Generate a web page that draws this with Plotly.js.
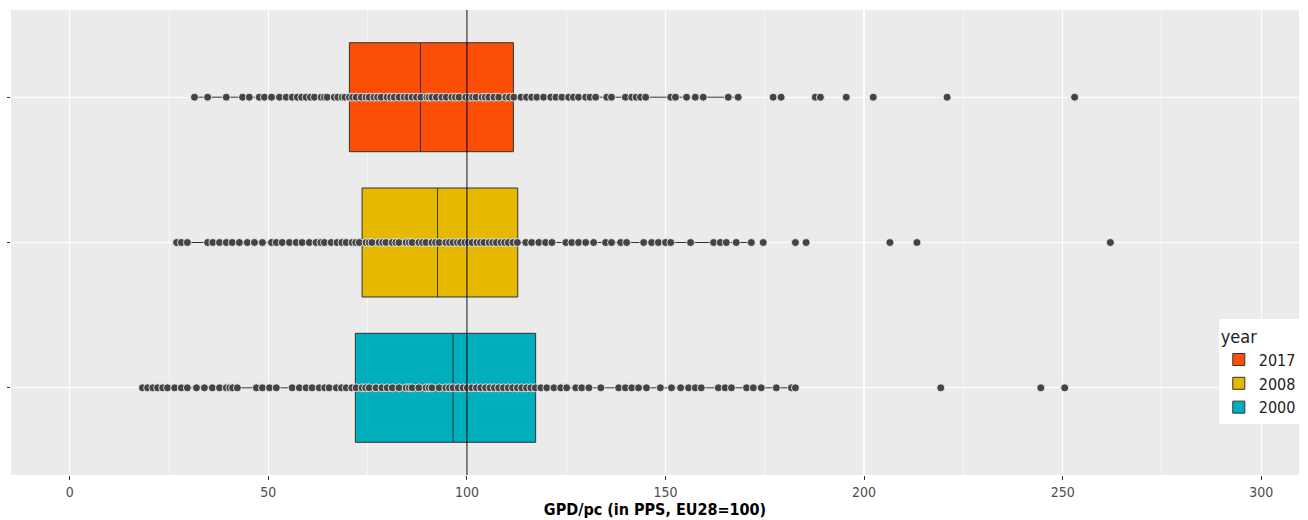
<!DOCTYPE html>
<html>
<head>
<meta charset="utf-8">
<script src="https://cdn.plot.ly/plotly-3.0.1.min.js"></script>
<style>html,body{margin:0;padding:0;background:#fff}#chart{width:1308px;height:520px}</style>
</head>
<body>
<div id="chart"></div>
<script>
// Years (legend order: top to bottom)
const years = ['2017', '2008', '2000'];
const colors = ['#FC4E07', '#E7B800', '#00AFBB'];

// Box statistics (per year, same order as years)
const q1Vals = [70.4, 73.6, 71.9];
const medianVals = [88.3, 92.6, 96.5];
const q3Vals = [111.7, 112.8, 117.3];
const lowerFence = [31.4, 26.9, 18.3];
const upperFence = [168.3, 171.6, 182.7];

// Regional GDP/pc values (points along each box)
const pts2017 = [31.4, 34.7, 39.4, 43.5, 45.2, 47.7, 49.0, 50.8, 52.8, 54.5, 56.0, 57.3, 58.4, 59.5, 60.6, 61.6, 63.3, 64.1, 64.8, 66.6, 67.5, 68.6, 69.3, 70.4, 71.2, 72.1, 73.4, 74.6, 75.4, 76.6, 77.5, 78.4, 79.9, 80.8, 81.7, 82.9, 84.2, 85.1, 86.2, 87.3, 88.4, 89.9, 90.5, 91.2, 92.3, 93.7, 94.8, 96.2, 97.1, 98.0, 99.7, 100.6, 101.4, 102.3, 103.8, 104.6, 105.5, 106.8, 108.0, 109.8, 110.7, 111.8, 113.6, 115.0, 116.3, 117.6, 119.3, 121.1, 122.4, 123.9, 125.6, 126.8, 128.1, 129.9, 131.0, 132.4, 135.2, 136.4, 139.9, 141.5, 142.6, 143.7, 145.0, 151.3, 152.5, 155.3, 157.5, 159.5, 165.8, 168.3, 177.1, 179.1, 187.7, 189.0, 195.5, 202.3, 220.9, 253.0];
const pts2008 = [26.9, 28.1, 29.6, 34.7, 36.0, 37.7, 39.4, 40.9, 42.7, 44.7, 46.5, 48.5, 50.8, 52.0, 53.5, 55.3, 57.0, 58.5, 60.3, 62.0, 63.2, 64.1, 65.8, 67.3, 68.5, 69.6, 71.1, 72.0, 72.9, 74.6, 75.4, 76.1, 77.9, 78.8, 79.6, 81.2, 82.1, 82.9, 84.7, 85.5, 86.2, 87.9, 88.8, 89.7, 91.2, 92.1, 93.0, 94.7, 95.6, 96.5, 97.6, 98.4, 99.5, 100.4, 101.3, 102.5, 103.4, 104.3, 105.6, 106.5, 107.4, 108.6, 109.5, 110.4, 111.6, 112.7, 114.8, 116.3, 118.1, 119.8, 121.4, 124.9, 126.4, 128.1, 129.9, 131.9, 134.9, 136.4, 138.7, 140.2, 144.5, 146.5, 148.2, 150.0, 151.3, 156.3, 162.1, 163.8, 165.3, 167.8, 171.6, 174.6, 182.7, 185.4, 206.5, 213.3, 262.0];
const pts2000 = [18.3, 19.6, 20.9, 22.1, 23.4, 24.6, 26.4, 28.1, 29.6, 31.9, 33.9, 35.9, 37.7, 39.4, 40.3, 41.0, 42.2, 47.0, 48.5, 50.3, 52.0, 56.0, 57.8, 59.5, 61.0, 62.8, 64.2, 65.3, 67.1, 68.4, 69.6, 71.0, 72.1, 73.6, 74.5, 75.4, 77.1, 78.6, 79.9, 81.2, 82.9, 84.7, 85.5, 86.2, 87.9, 89.7, 90.5, 91.2, 93.0, 94.7, 95.6, 96.5, 97.8, 99.0, 100.1, 101.2, 102.4, 103.5, 104.7, 105.8, 106.9, 108.0, 109.2, 110.4, 111.5, 112.7, 113.8, 115.0, 116.1, 117.2, 118.6, 120.1, 121.9, 123.6, 125.1, 127.4, 128.9, 130.7, 133.7, 138.2, 139.9, 141.5, 143.2, 145.2, 148.7, 151.5, 153.8, 155.8, 157.5, 159.0, 163.3, 165.0, 166.6, 170.4, 172.1, 174.1, 177.9, 181.7, 182.7, 219.3, 244.5, 250.5];
const pointSets = [pts2017, pts2008, pts2000];

const refLine = 100;
const xTicks = [0, 50, 100, 150, 200, 250, 300];

const fontFam = '"DejaVu Sans Condensed", "Liberation Sans Narrow", "Liberation Sans", Arial, sans-serif';

const traces = [];
years.forEach((yr, i) => {
  traces.push({
    type: 'box', orientation: 'h', name: yr,
    y: [yr], q1: [q1Vals[i]], median: [medianVals[i]], q3: [q3Vals[i]],
    lowerfence: [lowerFence[i]], upperfence: [upperFence[i]],
    fillcolor: colors[i], line: {color: '#333333', width: 1},
    whiskerwidth: 0, width: 0.75, boxpoints: false, hoverinfo: 'skip'
  });
});
years.forEach((yr, i) => {
  traces.push({
    type: 'scatter', mode: 'markers', showlegend: false,
    x: pointSets[i], y: pointSets[i].map(() => yr),
    marker: {color: '#444444', size: 8, line: {color: '#ffffff', width: 0.8}},
    hoverinfo: 'x'
  });
});

const layout = {
  width: 1308, height: 520,
  margin: {l: 11, r: 8, t: 10, b: 45},
  paper_bgcolor: '#ffffff', plot_bgcolor: '#EBEBEB',
  font: {family: fontFam, color: '#4D4D4D'},
  showlegend: true,
  legend: {
    x: 0.937, y: 0.335, xanchor: 'left', yanchor: 'top',
    bgcolor: '#ffffff', borderwidth: 0,
    title: {text: 'year', font: {size: 18, color: '#222'}},
    font: {size: 16, color: '#222'}, traceorder: 'normal', tracegroupgap: 0,
    itemwidth: 30
  },
  xaxis: {
    range: [-14.8, 309.5], tickvals: xTicks, ticktext: xTicks.map(String),
    showgrid: true, gridcolor: '#ffffff', gridwidth: 1.3,
    minor: {dtick: 25, tick0: 0, showgrid: true, gridcolor: '#ffffff', gridwidth: 0.6},
    zeroline: false, ticks: 'outside', ticklen: 4, tickcolor: '#333333',
    tickfont: {size: 14, color: '#4D4D4D'},
    title: {text: 'GPD/pc (in PPS, EU28=100)', font: {size: 16, color: '#000', family: fontFam, weight: 'bold'}, standoff: 3},
    fixedrange: true
  },
  yaxis: {
    type: 'category', categoryorder: 'array', categoryarray: ['2000', '2008', '2017'],
    range: [-0.6, 2.6], showgrid: true, gridcolor: '#ffffff', gridwidth: 1.3,
    showticklabels: false, ticks: 'outside', ticklen: 3, tickcolor: '#333333',
    zeroline: false, fixedrange: true
  },
  shapes: [{
    type: 'line', xref: 'x', yref: 'paper', x0: refLine, x1: refLine, y0: 0, y1: 1,
    line: {color: '#000000', width: 1}, layer: 'above'
  }],
  boxmode: 'overlay'
};

Plotly.newPlot('chart', traces, layout, {displayModeBar: false, staticPlot: true});
</script>
</body>
</html>
